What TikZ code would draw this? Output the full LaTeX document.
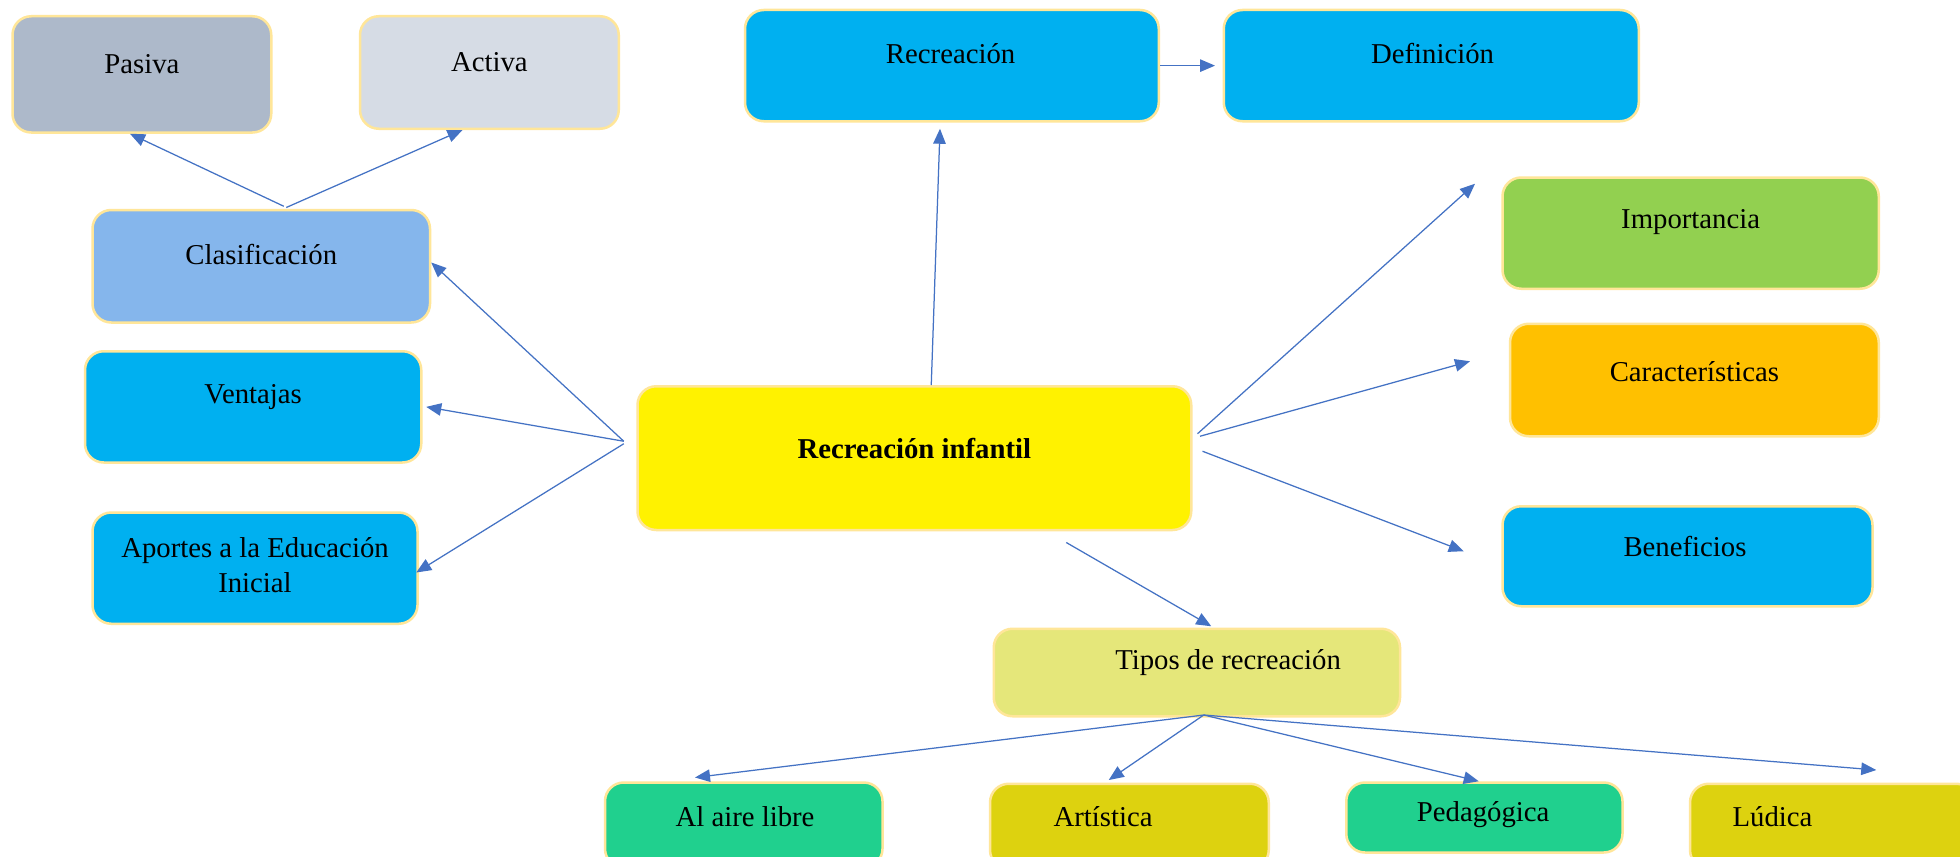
\documentclass[tikz,border=0pt]{standalone}
\usepackage{fontspec}
\setmainfont{Liberation Serif}
\usetikzlibrary{arrows.meta,calc}
\definecolor{edgecream}{HTML}{FFE699}
\definecolor{cpasiva}{HTML}{ADB9CA}
\definecolor{cactiva}{HTML}{D6DCE5}
\definecolor{cblue}{HTML}{00B0F0}
\definecolor{cclasif}{HTML}{85B6EC}
\definecolor{cimport}{HTML}{92D050}
\definecolor{ccaract}{HTML}{FFC000}
\definecolor{ctipos}{HTML}{E5E77A}
\definecolor{cgreen}{HTML}{20D08E}
\definecolor{colive}{HTML}{DDD20F}
\definecolor{carrow}{HTML}{4472C4}
\begin{document}
\begin{tikzpicture}[x=1pt,y=-1pt,
  box/.style={draw=edgecream,line width=2pt,rounded corners=15pt,inner sep=0pt},
  lbl/.style={font=\fontsize{23}{28}\selectfont,inner sep=0pt,align=center},
  arr/.style={draw=carrow,line width=1pt,-{Triangle[length=12pt,width=10pt]}},
  seg/.style={draw=carrow,line width=1pt}]
\clip (0,0) rectangle (1568,685);
\fill[white] (0,0) rectangle (1568,685);
% boxes
\node[box,fill=cpasiva,minimum width=207pt,minimum height=93pt,label={[lbl,shift={(0,-8)}]center:Pasiva}] (pas) at (113.5,59.5) {};
\node[box,fill=cactiva,minimum width=207pt,minimum height=90pt,label={[lbl,shift={(0,-8)}]center:Activa}] (act) at (391.5,58) {};
\node[box,fill=cblue,minimum width=331pt,minimum height=89pt,label={[lbl,shift={(-1,-9.5)}]center:Recreación}] (rec) at (761.5,52.5) {};
\node[box,fill=cblue,minimum width=332pt,minimum height=89pt,label={[lbl,shift={(1,-9.5)}]center:Definición}] (def) at (1145,52.5) {};
\node[box,fill=cclasif,minimum width=270pt,minimum height=90pt,label={[lbl,shift={(0,-9)}]center:Clasificación}] (cla) at (209,213) {};
\node[box,fill=cblue,minimum width=269pt,minimum height=89pt,label={[lbl,shift={(0,-7.5)}]center:Ventajas}] (ven) at (202.5,325.5) {};
\node[box,fill=cblue,minimum width=260pt,minimum height=89pt,label={[lbl,shift={(0,-2.5)}]center:Aportes a la Educación\\Inicial}] (apo) at (204,454.5) {};
\node[box,fill=yellow,minimum width=443pt,minimum height=115pt,label={[lbl,font=\fontsize{23}{28}\selectfont\bfseries,shift={(0,-7.5)}]center:Recreación infantil}] (ri) at (731.5,366.5) {};
\node[box,fill=cimport,minimum width=301pt,minimum height=89pt,label={[lbl,shift={(0,-8.5)}]center:Importancia}] (imp) at (1352.5,186.5) {};
\node[box,fill=ccaract,minimum width=295pt,minimum height=90pt,label={[lbl,shift={(0,-7)}]center:Características}] (car) at (1355.5,304) {};
\node[box,fill=cblue,minimum width=296pt,minimum height=80pt,label={[lbl,shift={(-2,-8)}]center:Beneficios}] (ben) at (1350,445) {};
\node[box,fill=ctipos,minimum width=325pt,minimum height=70pt,label={[lbl,shift={(25,-8)}]center:Tipos de recreación}] (tip) at (957.5,538) {};
\node[box,fill=cgreen,minimum width=222pt,minimum height=68pt,label={[lbl,shift={(1,-7)}]center:Al aire libre}] (ail) at (595,660) {};
\node[box,fill=colive,minimum width=223pt,minimum height=68pt,label={[lbl,shift={(-21,-8)}]center:Artística}] (art) at (903.5,661) {};
\node[box,fill=cgreen,minimum width=221pt,minimum height=56pt,label={[lbl,shift={(-1,-2)}]center:Pedagógica}] (ped) at (1187.5,654) {};
\node[box,fill=colive,minimum width=228pt,minimum height=68pt,label={[lbl,shift={(-48,-8)}]center:Lúdica}] (lud) at (1466,661) {};
% hub points
\coordinate (hubL) at ([shift={(-10,-13.5)}]ri.west);
\coordinate (hubR) at ([shift={(4,-19.5)}]ri.east);
\coordinate (hubR2) at ([shift={(6,-17.5)}]ri.east);
\coordinate (hubR3) at ([shift={(8,-5.5)}]ri.east);
\coordinate (hubC) at ([shift={(18,-2)}]cla.north);
\coordinate (hubT) at ([shift={(5.5,-2)}]tip.south);
% connectors
\draw[arr] ([shift={(13.5,0)}]ri.north) -- ([shift={(-9.5,5)}]rec.south);
\draw[arr] (rec.east) -- ([shift={(-6,0)}]def.west);
\draw[arr] (hubR) -- ([shift={(-21,6)}]imp.north west);
\draw[arr] (hubR2) -- ([shift={(-31,-15)}]car.west);
\draw[arr] (hubR3) -- ([shift={(-30,-4)}]ben.west);
\draw[arr] ([shift={(121.5,9)}]ri.south) -- ([shift={(11.5,-1)}]tip.north);
\draw[arr] (hubL) -- ([shift={(0,-3)}]cla.east);
\draw[arr] (hubL) -- ([shift={(3,0)}]ven.east);
\draw[arr] ([shift={(0,2)}]hubL) -- ([shift={(-2,3.5)}]apo.east);
\draw[arr] (hubC) -- ([shift={(-9.5,0)}]pas.south);
\draw[arr] ([shift={(2,1)}]hubC) -- ([shift={(-21.5,0)}]act.south);
\draw[arr] (hubT) -- ([shift={(-39,-3)}]ail.north);
\draw[arr] (hubT) -- ([shift={(-16.5,-2)}]art.north);
\draw[arr] (hubT) -- ([shift={(-4.5,0)}]ped.north);
\draw[arr] (hubT) -- ([shift={(150,-10)}]lud.north west);
\end{tikzpicture}
\end{document}
